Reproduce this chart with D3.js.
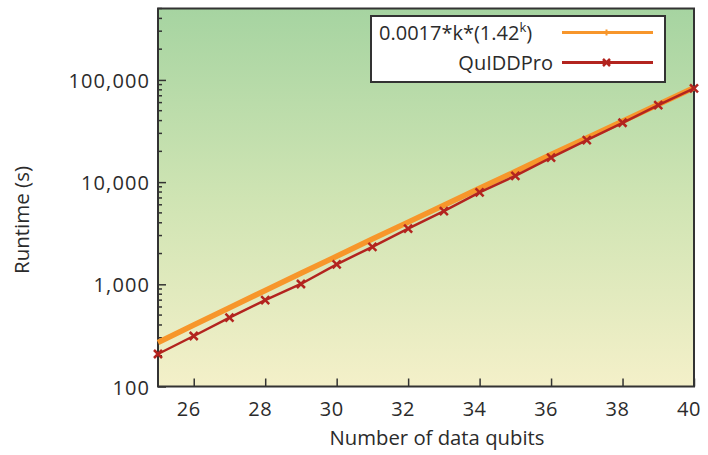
<!DOCTYPE html>
<html><head><meta charset="utf-8">
<script src="https://cdn.jsdelivr.net/npm/d3@7"></script>
<style>body{margin:0;background:#fff}svg{display:block}text{font-family:"Open Sans",sans-serif;fill:#2b2b2b}</style>
</head><body>
<script>
const qubits = [25,26,27,28,29,30,31,32,33,34,35,36,37,38,39,40];
const fitValues = [270,400,590,870,1280,1880,2770,4060,5950,8700,12700,18600,27100,39500,57600,83900];
const quiddValues = [208,312,471,702,1007,1570,2330,3500,5210,7940,11530,17330,25800,38100,56800,82800];
const xTicks = [26,28,30,32,34,36,38,40];
const yTicks = [100,1000,10000,100000];
const yTickLabels = ["100","1,000","10,000","100,000"];
const seriesNames = ["0.0017*k*(1.42","QuIDDPro"];

const W=708,H=455;
const m={left:158,right:694,top:8.5,bottom:386.5};
const svg=d3.select("body").append("svg").attr("width",W).attr("height",H);
const x=d3.scaleLinear().domain([25,40]).range([m.left,m.right]);
const y=d3.scaleLog().domain([100,500000]).range([m.bottom,m.top]);

const defs=svg.append("defs");
const g=defs.append("linearGradient").attr("id","bg").attr("x1",0).attr("y1",0).attr("x2",0).attr("y2",1);
g.append("stop").attr("offset","0%").attr("stop-color","#a6d4a1");
g.append("stop").attr("offset","50%").attr("stop-color","#cfe4b3");
g.append("stop").attr("offset","100%").attr("stop-color","#f4f0c9");
svg.append("rect").attr("x",m.left).attr("y",m.top).attr("width",m.right-m.left).attr("height",m.bottom-m.top).attr("fill","url(#bg)");

// y ticks (inward)
const minor=[];
for(let d=100; d<500000; d*=10){ for(let k=2;k<=9;k++){ const v=d*k; if(v<=500000) minor.push(v);} }
svg.append("g").selectAll("line").data(minor).join("line")
  .attr("x1",m.left).attr("x2",m.left+4).attr("y1",d=>y(d)).attr("y2",d=>y(d))
  .attr("stroke","#333").attr("stroke-width",1.5);
const yAxis=d3.axisRight(y).tickValues(yTicks).tickSize(8).tickFormat("");
const ya=svg.append("g").attr("transform",`translate(${m.left},0)`).call(yAxis);
ya.select(".domain").remove();
ya.selectAll("line").attr("stroke","#333").attr("stroke-width",1.5);
svg.append("g").selectAll("text").data(yTicks).join("text")
  .attr("x",150).attr("y",d=>y(d)+8).attr("text-anchor","end").attr("font-size",20).attr("letter-spacing",1.1)
  .text((d,i)=>yTickLabels[i]);

// x ticks
const xAxis=d3.axisTop(x).tickValues(xTicks).tickSize(8).tickFormat("");
const xa=svg.append("g").attr("transform",`translate(0,${m.bottom})`).call(xAxis);
xa.select(".domain").remove();
xa.selectAll("line").attr("stroke","#333").attr("stroke-width",1.5);
svg.append("g").selectAll("text").data(xTicks).join("text")
  .attr("x",d=>x(d)-5).attr("y",416).attr("text-anchor","middle").attr("font-size",20).attr("letter-spacing",0.5)
  .text(d=>d);

// border
svg.append("rect").attr("x",m.left).attr("y",m.top).attr("width",m.right-m.left).attr("height",m.bottom-m.top)
  .attr("fill","none").attr("stroke","#333").attr("stroke-width",2);

// labels
svg.append("text").attr("transform","translate(29,220) rotate(-90)").attr("text-anchor","middle").attr("font-size",20.5).text("Runtime (s)");
svg.append("text").attr("x",437).attr("y",445).attr("text-anchor","middle").attr("font-size",20.3).text("Number of data qubits");

const orange="#f7962b", red="#b3241f";
const line=d3.line().x((d,i)=>x(qubits[i])).y(d=>y(d));
svg.append("path").datum(fitValues).attr("d",line).attr("fill","none").attr("stroke",orange).attr("stroke-width",5.5);
svg.append("path").datum(quiddValues).attr("d",line).attr("fill","none").attr("stroke",red).attr("stroke-width",2.5);

function cross(sel,cx,cy,s,col){
  sel.append("path").attr("d",`M${cx-s},${cy-s}L${cx+s},${cy+s}M${cx-s},${cy+s}L${cx+s},${cy-s}`)
   .attr("stroke",col).attr("stroke-width",2.5).attr("fill","none");
}
const mk=svg.append("g");
quiddValues.forEach((v,i)=>cross(mk,x(qubits[i]),y(v),4,red));

// legend
const lg=svg.append("g");
lg.append("rect").attr("x",371).attr("y",16).attr("width",294).attr("height",66).attr("fill","#fff").attr("stroke","#333").attr("stroke-width",2);
const t1=lg.append("text").attr("x",379).attr("y",40).attr("font-size",20);
t1.append("tspan").text(seriesNames[0]);
t1.append("tspan").attr("dy",-8).attr("font-size",13).text("k");
t1.append("tspan").attr("dy",8).text(")");
lg.append("text").attr("x",553).attr("y",70).attr("text-anchor","end").attr("font-size",20).text(seriesNames[1]);
lg.append("line").attr("x1",562).attr("x2",653).attr("y1",32.5).attr("y2",32.5).attr("stroke",orange).attr("stroke-width",3);
lg.append("path").attr("d","M606.5,29.5V35.5M603.5,32.5H609.5").attr("stroke",orange).attr("stroke-width",2);
lg.append("line").attr("x1",562).attr("x2",653).attr("y1",62.5).attr("y2",62.5).attr("stroke",red).attr("stroke-width",3);
cross(lg,606.5,62.5,3.5,red);
</script>
</body></html>
